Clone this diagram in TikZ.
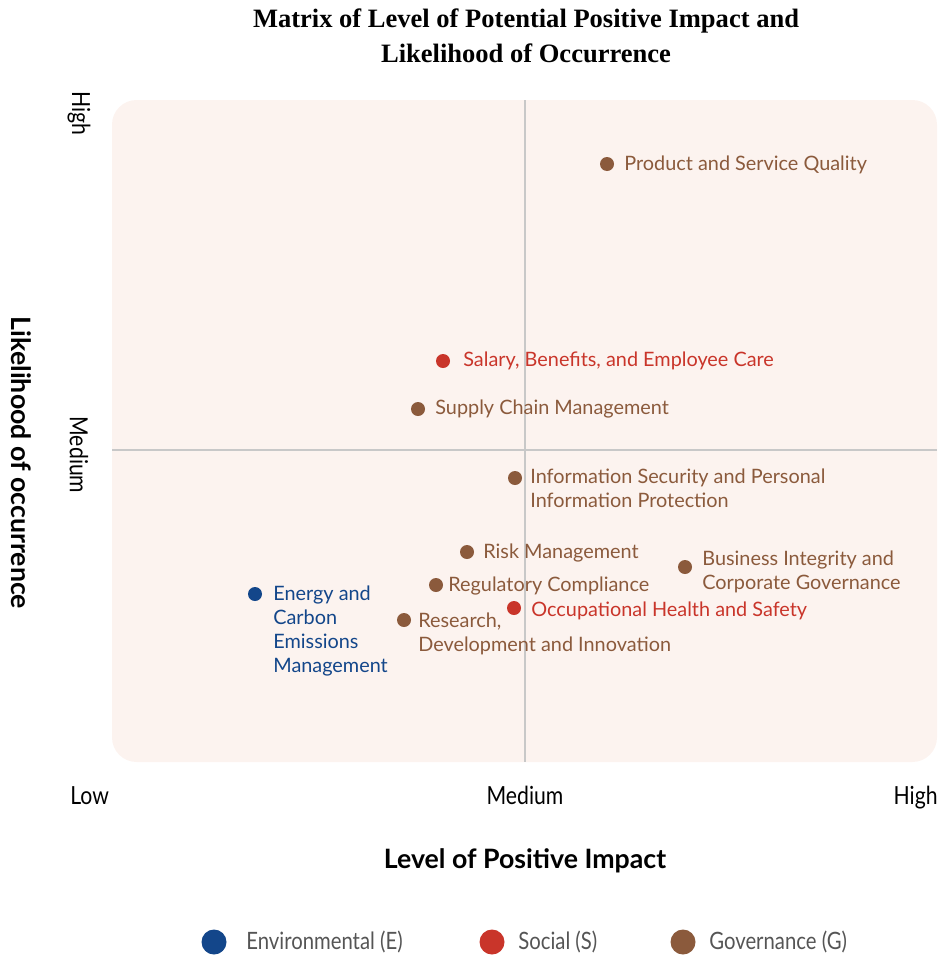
\documentclass[tikz,border=0pt]{standalone}
\usepackage{fontspec}
\setmainfont{Lato}
\newfontfamily\titlefont{Liberation Serif}
\newfontfamily\narrowfont[FakeStretch=0.85]{Lato}
\definecolor{bgpink}{HTML}{FCF3EF}
\definecolor{gridgray}{HTML}{C8C8C8}
\definecolor{gbrown}{HTML}{8B5A3C}
\definecolor{sred}{HTML}{C9352A}
\definecolor{eblue}{HTML}{13468A}
\definecolor{legtext}{HTML}{555555}
\begin{document}
\begin{tikzpicture}[x=0.02cm,y=-0.02cm,
  dot/.style={circle,fill=#1,inner sep=0pt,minimum size=14*0.02cm},
  lbl/.style={anchor=west,text=#1,font=\fontsize{11.3}{13.6}\selectfont,align=left,inner sep=0pt},
  tick/.style={font=\narrowfont\fontsize{14.2}{16}\selectfont,inner sep=0pt},
  legdot/.style={circle,fill=#1,inner sep=0pt,minimum size=25*0.02cm},
  legtxt/.style={anchor=west,text=legtext,font=\narrowfont\fontsize{13.6}{15}\selectfont,inner sep=0pt}]
\useasboundingbox (0,0) rectangle (937,957);
% background
\fill[bgpink,rounded corners=14pt] (112,100) rectangle (937,762);
\coordinate (vt) at (525,100); \coordinate (vb) at (525,762);
\coordinate (hl) at (112,450); \coordinate (hr) at (937,450);
\draw[gridgray,line width=0.7pt] (vt) -- (vb);
\draw[gridgray,line width=0.7pt] (hl) -- (hr);
% title
\node[font=\titlefont\bfseries\fontsize{15.1}{19.6}\selectfont,align=center] (title) at (526,36) {Matrix of Level of Potential Positive Impact and\\Likelihood of Occurrence};
% axis labels
\node[tick,rotate=-90] (yhigh) at (79,113) {High};
\node[tick,rotate=-90] (ymed) at (79,455) {Medium};
\node[font=\bfseries\fontsize{15.2}{17}\selectfont,rotate=-90] (ylab) at (21,463) {Likelihood of occurrence};
\node[tick,anchor=base west] (xlow) at (70,804) {Low};
\node[tick,anchor=base] (xmed) at (525,804) {Medium};
\node[tick,anchor=base east] (xhigh) at (938,804) {High};
\node[font=\bfseries\fontsize{15.2}{17}\selectfont] (xlab) at (525,861) {Level of Positive Impact};
% points
\node[dot=gbrown] (p1) at (607,164) {};
\node[lbl=gbrown] (t1) at (624,165) {Product and Service Quality};
\node[dot=sred] (p2) at (443,361) {};
\node[lbl=sred] (t2) at (463,361) {Salary, Benefits, and Employee Care};
\node[dot=gbrown] (p3) at (418,409) {};
\node[lbl=gbrown] (t3) at (435,409) {Supply Chain Management};
\node[dot=gbrown] (p4) at (515,478) {};
\node[lbl=gbrown,anchor=north west] (t4) at (530,469) {Information Security and Personal\\Information Protection};
\node[dot=gbrown] (p5) at (467,552) {};
\node[lbl=gbrown] (t5) at (483,553) {Risk Management};
\node[dot=gbrown] (p6) at (685,567) {};
\node[lbl=gbrown,anchor=north west] (t6) at (702,551) {Business Integrity and\\Corporate Governance};
\node[dot=gbrown] (p7) at (436,585) {};
\node[lbl=gbrown] (t7) at (448,586) {Regulatory Compliance};
\node[dot=sred] (p8) at (514,608) {};
\node[lbl=sred] (t8) at (531,611) {Occupational Health and Safety};
\node[dot=gbrown] (p9) at (404,620) {};
\node[lbl=gbrown,anchor=north west] (t9) at (418,613) {Research,\\Development and Innovation};
\node[dot=eblue] (p10) at (255,594) {};
\node[lbl=eblue,anchor=north west] (t10) at (273,586) {Energy and\\Carbon\\Emissions\\Management};
% legend
\node[legdot=eblue] (l1) at (214,942) {};
\node[legtxt] (lt1) at (246,942) {Environmental (E)};
\node[legdot=sred] (l2) at (492,942) {};
\node[legtxt] (lt2) at (518,942) {Social (S)};
\node[legdot=gbrown] (l3) at (683,942) {};
\node[legtxt] (lt3) at (709,942) {Governance (G)};
\end{tikzpicture}
\end{document}
